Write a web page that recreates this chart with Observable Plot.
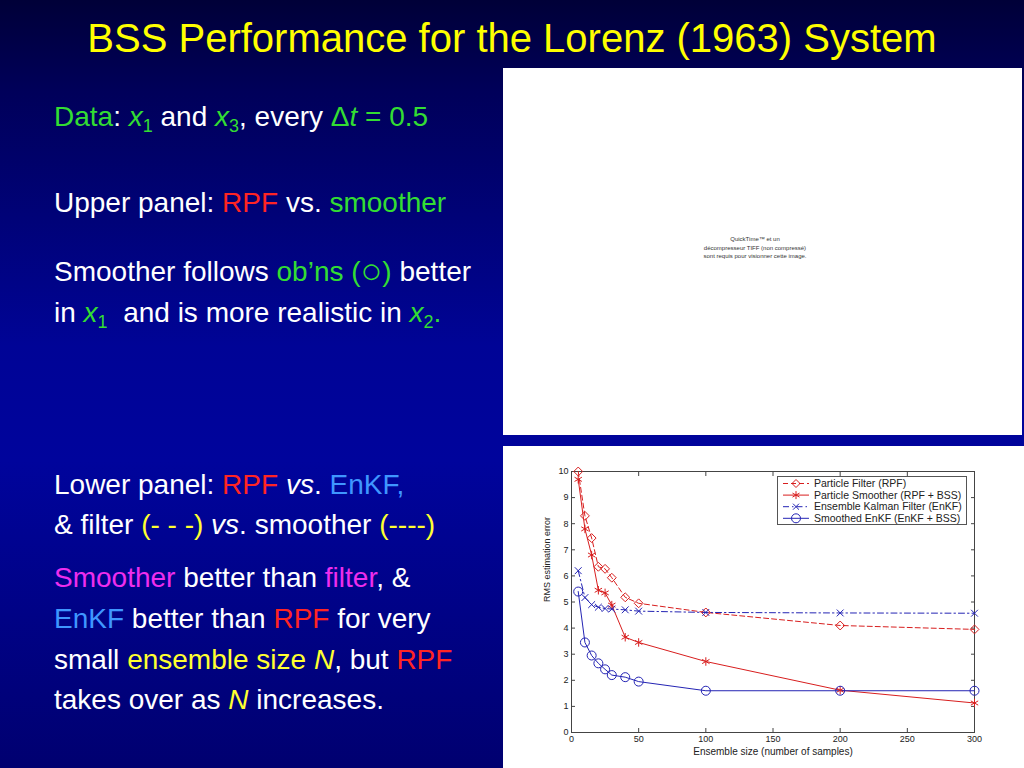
<!DOCTYPE html>
<html><head><meta charset="utf-8">
<script src="https://cdn.jsdelivr.net/npm/d3@7"></script>
<script src="https://cdn.jsdelivr.net/npm/@observablehq/plot@0.6"></script>
<style>
html,body{margin:0;padding:0;}
body{width:1024px;height:768px;overflow:hidden;position:relative;
 background:linear-gradient(to bottom,#000038 0%,#00005a 12%,#000496 45%,#00049c 60%,#000070 100%);
 font-family:"Liberation Sans",Arial,Helvetica,sans-serif;}
.t{position:absolute;left:54px;font-size:28px;line-height:28px;color:#fff;white-space:nowrap;}
.g{color:#33dd33}.r{color:#ff2424}.b{color:#3f96ff}.m{color:#ee2eee}.y{color:#ffff30}
.i{font-style:italic}
.sub{font-size:18px;position:relative;top:6px;}
.circ{font-size:36px;line-height:0;position:relative;top:2px;}
#title{position:absolute;left:0;width:1024px;top:18px;text-align:center;font-size:40px;line-height:40px;color:#ffff00;white-space:nowrap;}
#upper{position:absolute;left:503px;top:68px;width:519px;height:367px;background:#fff;}
#qt{position:absolute;left:152px;width:200px;top:167px;text-align:center;font-size:6px;line-height:8.5px;color:#333;}
#lower{position:absolute;left:503px;top:446px;width:521px;height:322px;background:#fff;}
#legend{position:absolute;left:274px;top:30px;width:188px;height:47px;background:#fff;border:1px solid #555;}
</style></head><body>
<div id="title">BSS Performance for the Lorenz (1963) System</div>
<div class="t" style="top:103px"><span class="g">Data</span>: <span class="g i">x</span><span class="g sub">1</span> and <span class="g i">x</span><span class="g sub">3</span>, every <span class="g">Δ<span class="i">t</span> = 0.5</span></div>
<div class="t" style="top:189px">Upper panel: <span class="r">RPF</span> vs. <span class="g">smoother</span></div>
<div class="t" style="top:258px">Smoother follows <span class="g">ob’ns (<span class="circ">○</span>)</span> better</div>
<div class="t" style="top:299px">in <span class="g i">x</span><span class="g sub">1</span>&nbsp; and is more realistic in <span class="g i">x</span><span class="g sub">2</span><span class="g">.</span></div>
<div class="t" style="top:471px">Lower panel: <span class="r">RPF</span> <span class="i">vs</span>. <span class="b">EnKF,</span></div>
<div class="t" style="top:511px">&amp; filter <span class="y">(- - -)</span> <span class="i">vs</span>. smoother <span class="y">(----)</span></div>
<div class="t" style="top:564px"><span class="m">Smoother</span> better than <span class="m">filter</span>, &amp;</div>
<div class="t" style="top:605px"><span class="b">EnKF</span> better than <span class="r">RPF</span> for very</div>
<div class="t" style="top:646px">small <span class="y">ensemble size <span class="i">N</span></span>, but <span class="r">RPF</span></div>
<div class="t" style="top:686px">takes over as <span class="y i">N</span> increases.</div>

<div id="upper"><div id="qt">QuickTime™ et un<br>décompresseur TIFF (non compressé)<br>sont requis pour visionner cette image.</div></div>
<div id="lower"><div id="legend"></div></div>

<script>
// Data
const ensembleSize = [5, 10, 15, 20, 25, 30, 40, 50, 100, 200, 300];
const particleFilter = [10, 8.3, 7.45, 6.35, 6.27, 5.93, 5.18, 4.95, 4.6, 4.1, 3.95];
const particleSmoother = [9.7, 7.8, 6.8, 5.45, 5.35, 4.88, 3.65, 3.45, 2.72, 1.62, 1.13];
const enkfFilter = [6.2, 5.17, 4.9, 4.8, 4.75, 4.73, 4.7, 4.65, 4.6, 4.58, 4.57];
const enkfSmoother = [5.4, 3.45, 2.95, 2.65, 2.42, 2.2, 2.12, 1.95, 1.6, 1.6, 1.6];
const xTicks = [0, 50, 100, 150, 200, 250, 300];
const yTicks = [0, 1, 2, 3, 4, 5, 6, 7, 8, 9, 10];
const seriesNames = ["Particle Filter (RPF)", "Particle Smoother (RPF + BSS)", "Ensemble Kalman Filter (EnKF)", "Smoothed EnKF (EnKF + BSS)"];

const RED = "#d81e1e", BLUE = "#2424b4";
const styles = [
  {color: RED, dash: "5,3", symbol: "diamond2", r: 4},
  {color: RED, dash: null, symbol: "asterisk", r: 4},
  {color: BLUE, dash: "6,3,1.5,3", symbol: "times", r: 3.2},
  {color: BLUE, dash: null, symbol: "circle", r: 4.5}
];
const values = [particleFilter, particleSmoother, enkfFilter, enkfSmoother];
const rows = values.map((vals, s) => ensembleSize.map((n, i) => ({n, v: vals[i], s})));

const marks = [
  Plot.frame({stroke: "#444"}),
  Plot.axisX({ticks: xTicks, tickSize: -4, tickPadding: 7, tickFormat: d => d, fontSize: 9, stroke: "#444", color: "#222"}),
  Plot.axisX({anchor: "top", ticks: xTicks, tickSize: -4, tickFormat: () => "", label: null, stroke: "#444"}),
  Plot.axisY({ticks: yTicks, tickSize: -4, tickPadding: 7, tickFormat: d => d, fontSize: 9, stroke: "#444", color: "#222"}),
  Plot.axisY({anchor: "right", ticks: yTicks, tickSize: -4, tickFormat: () => "", label: null, stroke: "#444"}),
  Plot.text(["Ensemble size (number of samples)"], {frameAnchor: "bottom", dy: 22, text: d => d, fontSize: 10, fill: "#222"}),
  Plot.text(["RMS estimation error"], {frameAnchor: "left", dx: -24, rotate: -90, text: d => d, fontSize: 9, fill: "#222"})
];
rows.forEach((data, s) => {
  const st = styles[s];
  marks.push(Plot.line(data, {x: "n", y: "v", stroke: st.color, strokeWidth: 1, strokeDasharray: st.dash}));
});
rows.forEach((data, s) => {
  const st = styles[s];
  marks.push(Plot.dot(data, {x: "n", y: "v", stroke: st.color, fill: "none", symbol: st.symbol, r: st.r, strokeWidth: 1}));
});

const chart = Plot.plot({
  width: 521, height: 322,
  marginLeft: 68, marginRight: 50, marginTop: 25, marginBottom: 36,
  style: {background: "transparent", fontFamily: "Liberation Sans, Arial, sans-serif", fontSize: "9px", color: "#222"},
  x: {domain: [0, 300], label: null},
  y: {domain: [0, 10], label: null},
  marks
});
chart.style.position = "absolute";
chart.style.left = "0px";
chart.style.top = "0px";
document.getElementById("lower").insertBefore(chart, document.getElementById("legend"));

// Legend
const leg = d3.select("#legend").append("svg").attr("width", 188).attr("height", 47);
const symbolPaths = {
  diamond2: "M0,-4L4,0L0,4L-4,0Z",
  asterisk: "M0,-4V4M-3.5,-2L3.5,2M-3.5,2L3.5,-2",
  times: "M-3,-3L3,3M-3,3L3,-3",
  circle: "M4.5,0A4.5,4.5 0 1 1 -4.5,0A4.5,4.5 0 1 1 4.5,0"
};
seriesNames.forEach((name, s) => {
  const st = styles[s];
  const y = 6.5 + s * 11.6;
  const g = leg.append("g");
  g.append("line").attr("x1", 5).attr("x2", 31).attr("y1", y).attr("y2", y)
    .attr("stroke", st.color).attr("stroke-dasharray", st.dash);
  g.append("path").attr("d", symbolPaths[st.symbol]).attr("transform", `translate(18,${y})`)
    .attr("fill", "none").attr("stroke", st.color);
  g.append("text").attr("x", 36).attr("y", y).attr("dy", "0.35em")
    .attr("font-size", 10.5).attr("fill", "#222")
    .attr("font-family", "Liberation Sans, Arial, sans-serif").text(name);
});
</script>
</body></html>
